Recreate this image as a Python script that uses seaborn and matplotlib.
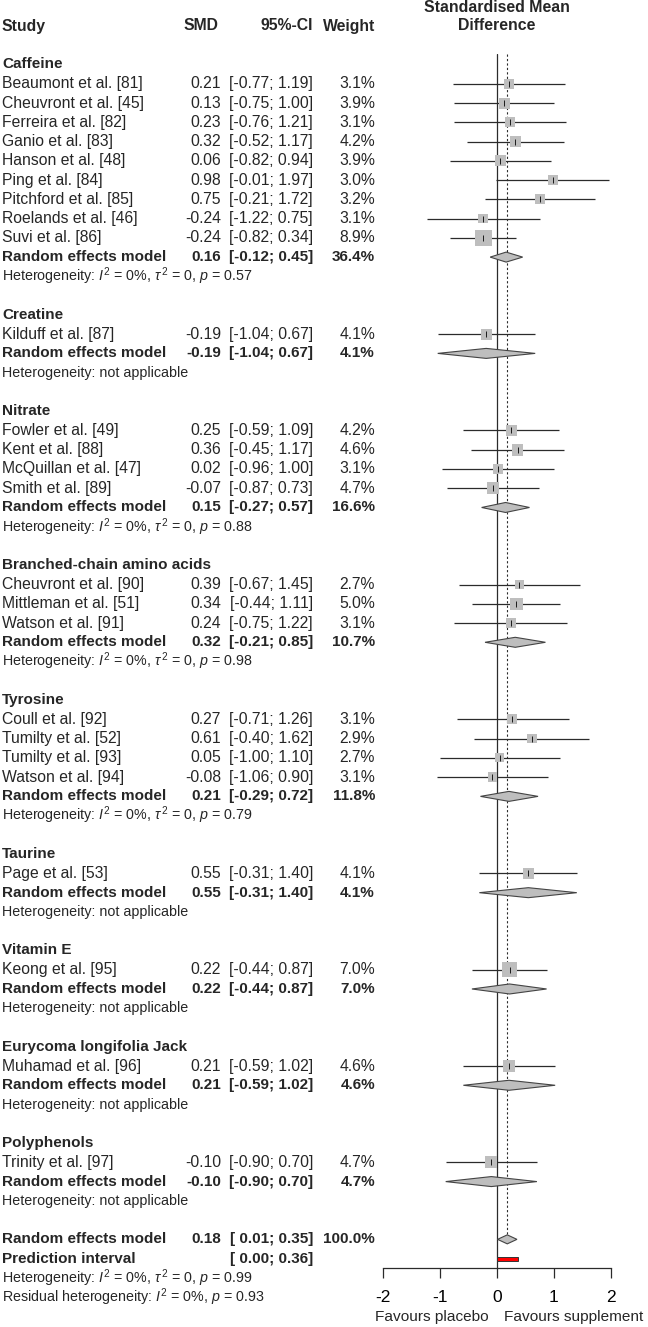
import matplotlib
matplotlib.use("Agg")
import matplotlib.pyplot as plt
import matplotlib.transforms as mtransforms
from matplotlib.patches import Polygon, Rectangle
import pandas as pd
import seaborn as sns

sns.set_theme(style="white")
plt.rcParams["font.family"] = ["Liberation Sans", "DejaVu Sans"]
plt.rcParams["mathtext.fontset"] = "custom"
plt.rcParams["mathtext.rm"] = "Liberation Sans"
plt.rcParams["mathtext.it"] = "Liberation Sans:italic"
plt.rcParams["mathtext.bf"] = "Liberation Sans:bold"
plt.rcParams["axes.unicode_minus"] = False

# ---- data -----------------------------------------------------------------
GROUPS = ["Caffeine", "Creatine", "Nitrate", "Branched-chain amino acids",
          "Tyrosine", "Taurine", "Vitamin E", "Eurycoma longifolia Jack",
          "Polyphenols"]

STUDIES = ["Beaumont et al. [81]", "Cheuvront et al. [45]", "Ferreira et al. [82]",
           "Ganio et al. [83]", "Hanson et al. [48]", "Ping et al. [84]",
           "Pitchford et al. [85]", "Roelands et al. [46]", "Suvi et al. [86]",
           "Kilduff et al. [87]",
           "Fowler et al. [49]", "Kent et al. [88]", "McQuillan et al. [47]",
           "Smith et al. [89]",
           "Cheuvront et al. [90]", "Mittleman et al. [51]", "Watson et al. [91]",
           "Coull et al. [92]", "Tumilty et al. [52]", "Tumilty et al. [93]",
           "Watson et al. [94]",
           "Page et al. [53]", "Keong et al. [95]", "Muhamad et al. [96]",
           "Trinity et al. [97]"]
STUDY_GROUP = [0] * 9 + [1] + [2] * 4 + [3] * 3 + [4] * 4 + [5, 6, 7, 8]
SMD = [0.21, 0.13, 0.23, 0.32, 0.06, 0.98, 0.75, -0.24, -0.24,
       -0.19,
       0.25, 0.36, 0.02, -0.07,
       0.39, 0.34, 0.24,
       0.27, 0.61, 0.05, -0.08,
       0.55, 0.22, 0.21, -0.10]
CI_LO = [-0.77, -0.75, -0.76, -0.52, -0.82, -0.01, -0.21, -1.22, -0.82,
         -1.04,
         -0.59, -0.45, -0.96, -0.87,
         -0.67, -0.44, -0.75,
         -0.71, -0.40, -1.00, -1.06,
         -0.31, -0.44, -0.59, -0.90]
CI_HI = [1.19, 1.00, 1.21, 1.17, 0.94, 1.97, 1.72, 0.75, 0.34,
         0.67,
         1.09, 1.17, 1.00, 0.73,
         1.45, 1.11, 1.22,
         1.26, 1.62, 1.10, 0.90,
         1.40, 0.87, 1.02, 0.70]
WEIGHT = [3.1, 3.9, 3.1, 4.2, 3.9, 3.0, 3.2, 3.1, 8.9,
          4.1,
          4.2, 4.6, 3.1, 4.7,
          2.7, 5.0, 3.1,
          3.1, 2.9, 2.7, 3.1,
          4.1, 7.0, 4.6, 4.7]

GROUP_SMD = [0.16, -0.19, 0.15, 0.32, 0.21, 0.55, 0.22, 0.21, -0.10]
GROUP_LO = [-0.12, -1.04, -0.27, -0.21, -0.29, -0.31, -0.44, -0.59, -0.90]
GROUP_HI = [0.45, 0.67, 0.57, 0.85, 0.72, 1.40, 0.87, 1.02, 0.70]
GROUP_WEIGHT = [36.4, 4.1, 16.6, 10.7, 11.8, 4.1, 7.0, 4.6, 4.7]
GROUP_HET_P = ["0.57", None, "0.88", "0.98", "0.79", None, None, None, None]

OVERALL_SMD, OVERALL_LO, OVERALL_HI, OVERALL_WEIGHT = 0.18, 0.01, 0.35, 100.0
PI_LO, PI_HI = 0.00, 0.36
OVERALL_HET_P = "0.99"
RESIDUAL_HET_P = "0.93"

XTICKS = [-2, -1, 0, 1, 2]

# ---- row layout -------------------------------------------------------------
header_y, study_y, group_y, het_y = [], [], [], []
y = 0
for g in range(len(GROUPS)):
    header_y.append(y)
    y += 1
    for s in range(len(STUDIES)):
        if STUDY_GROUP[s] == g:
            study_y.append(y)
            y += 1
    group_y.append(y)
    het_y.append(y + 1)
    y += 3
overall_y, pi_y, het_all_y, resid_y = y, y + 1, y + 2, y + 3

df = pd.DataFrame({"study": STUDIES, "smd": SMD, "lo": CI_LO, "hi": CI_HI,
                   "weight": WEIGHT, "y": study_y})

# ---- figure geometry (pixels) -----------------------------------------------
W, H = 648, 1327
ROW0, STEP = 64.5, 19.26
AX_TOP, AX_BOT = 54, 1268
X_LEFT, X_RIGHT = 383, 611

fig = plt.figure(figsize=(W / 100, H / 100), dpi=100)
ax = fig.add_axes([X_LEFT / W, 1 - AX_BOT / H, (X_RIGHT - X_LEFT) / W,
                   (AX_BOT - AX_TOP) / H])

GRAY = "#BEBEBE"
DARK = "#2b2b2b"

# reference lines
ax.axvline(0, color=DARK, lw=0.9, zorder=1)
ax.vlines(OVERALL_SMD, (AX_TOP - ROW0) / STEP, overall_y - 0.24,
          colors=DARK, lw=0.8, linestyles=(0, (2, 2)), zorder=1)

# study CIs + squares
ax.hlines(df["y"], df["lo"], df["hi"], colors=DARK, lw=0.9, zorder=2)
K = 16.0
sns.scatterplot(data=df, x="smd", y="y", size="weight",
                sizes=(K * df["weight"].min(), K * df["weight"].max()),
                size_norm=(df["weight"].min(), df["weight"].max()),
                marker="s", color=GRAY, edgecolor="none", linewidth=0,
                legend=False, ax=ax, zorder=3)
ax.scatter(df["smd"], df["y"], marker="|", s=14, color="black", lw=0.6, zorder=4)

# subgroup + overall diamonds
def diamond(est, lo, hi, yy, h):
    ax.add_patch(Polygon([(lo, yy), (est, yy - h), (hi, yy), (est, yy + h)],
                         closed=True, fc=GRAY, ec="#444444", lw=0.8, zorder=3))

for g in range(len(GROUPS)):
    diamond(GROUP_SMD[g], GROUP_LO[g], GROUP_HI[g], group_y[g], 5 / STEP)
diamond(OVERALL_SMD, OVERALL_LO, OVERALL_HI, overall_y, 4.5 / STEP)

# prediction interval
ax.add_patch(Rectangle((PI_LO, pi_y - 2 / STEP), PI_HI - PI_LO, 4 / STEP,
                       fc="red", ec="#333333", lw=0.7, zorder=3))

ax.set_xlim(XTICKS[0], XTICKS[-1])
ax.set_ylim((AX_BOT - ROW0) / STEP, (AX_TOP - ROW0) / STEP)
ax.set_xticks(XTICKS)
ax.set_xticklabels([str(t) for t in XTICKS])
ax.set_yticks([])
ax.set_xlabel("")
ax.set_ylabel("")
for side in ["top", "left", "right"]:
    ax.spines[side].set_visible(False)
ax.spines["bottom"].set_color(DARK)
ax.spines["bottom"].set_linewidth(0.9)
ax.tick_params(axis="x", bottom=True, direction="out", length=7.2, width=0.9,
               color=DARK, pad=9, labelsize=12.5, labelcolor="black")
ax.set_facecolor("none")

# ---- text columns -------------------------------------------------------------
tr = mtransforms.blended_transform_factory(fig.transFigure, ax.transData)
FS, FS_BOLD, FS_HET = 11.3, 11.0, 10.3
COL_STUDY, COL_SMD, COL_CI, COL_W = 2 / W, 221 / W, 313 / W, 375 / W


def ci_str(lo, hi):
    return f"[{lo:5.2f}; {hi:.2f}]"


def row_text(yy, label, est, lo, hi, w, bold=False):
    kw = dict(transform=tr, va="center",
              fontsize=FS_BOLD if bold else FS,
              fontweight="bold" if bold else "normal")
    ax.text(COL_STUDY, yy, label, ha="left", **kw)
    if est is not None:
        ax.text(COL_SMD, yy, f"{est:.2f}", ha="right", **kw)
    ax.text(COL_CI, yy, ci_str(lo, hi), ha="right", **kw)
    if w is not None:
        ax.text(COL_W, yy, f"{w:.1f}%", ha="right", **kw)


def het_text(yy, p):
    if p is None:
        s = "Heterogeneity: not applicable"
    else:
        s = r"Heterogeneity: $I^2$ = 0%, $\tau^{\,2}$ = 0, $p$ = " + p
    ax.text(COL_STUDY, yy, s, transform=tr, ha="left", va="center", fontsize=FS_HET)


# column headers
hy = (26 - ROW0) / STEP
hkw = dict(transform=tr, va="center", fontsize=FS_BOLD + 0.3, fontweight="bold")
ax.text(COL_STUDY, hy, "Study", ha="left", **hkw)
ax.text(218 / W, hy, "SMD", ha="right", **hkw)
ax.text(COL_CI, hy, "95%-CI", ha="right", **hkw)
ax.text(COL_W, hy, "Weight", ha="right", **hkw)
ax.text(0, (7 - ROW0) / STEP, "Standardised Mean", ha="center", va="center",
        fontsize=FS_BOLD + 0.4, fontweight="bold")
ax.text(0, hy, "Difference", ha="center", va="center",
        fontsize=FS_BOLD + 0.4, fontweight="bold")

for g, name in enumerate(GROUPS):
    ax.text(COL_STUDY, header_y[g], name, transform=tr, ha="left", va="center",
            fontsize=FS_BOLD, fontweight="bold")
    row_text(group_y[g], "Random effects model", GROUP_SMD[g], GROUP_LO[g],
             GROUP_HI[g], GROUP_WEIGHT[g], bold=True)
    het_text(het_y[g], GROUP_HET_P[g])

for _, r in df.iterrows():
    row_text(r["y"], r["study"], r["smd"], r["lo"], r["hi"], r["weight"])

row_text(overall_y, "Random effects model", OVERALL_SMD, OVERALL_LO, OVERALL_HI,
         OVERALL_WEIGHT, bold=True)
row_text(pi_y, "Prediction interval", None, PI_LO, PI_HI, None, bold=True)
het_text(het_all_y, OVERALL_HET_P)
ax.text(COL_STUDY, resid_y,
        r"Residual heterogeneity: $I^2$ = 0%, $p$ = " + RESIDUAL_HET_P,
        transform=tr, ha="left", va="center", fontsize=FS_HET)

# favours labels
fig.text(489 / W, 1 - 1317 / H, "Favours placebo", ha="right", va="center",
         fontsize=11.1)
fig.text(504 / W, 1 - 1317 / H, "Favours supplement", ha="left", va="center",
         fontsize=11.1)

fig.savefig("out.png", dpi=100, facecolor="white")
